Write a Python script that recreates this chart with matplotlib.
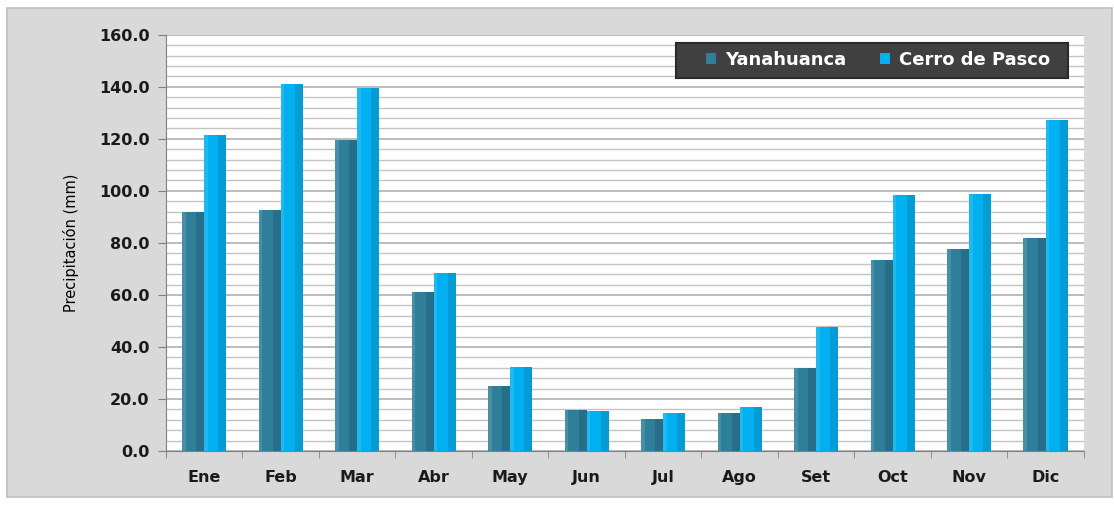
import numpy as np
import matplotlib
matplotlib.use("Agg")
from matplotlib import pyplot as plt
from matplotlib.patches import Rectangle

months = ["Ene", "Feb", "Mar", "Abr", "May", "Jun", "Jul", "Ago", "Set", "Oct", "Nov", "Dic"]
yanahuanca = [92.0, 92.7, 119.6, 61.2, 25.0, 15.8, 12.3, 14.6, 31.9, 73.5, 77.7, 81.9]
cerro_pasco = [121.5, 141.2, 139.6, 68.5, 32.3, 15.4, 14.6, 16.9, 47.7, 98.5, 98.8, 127.3]
series_names = ["Yanahuanca", "Cerro de Pasco"]

c_yana, c_yana_dark = "#2f7f9a", "#21627a"
c_cerro, c_cerro_dark = "#00b0f0", "#0a8cc0"

plt.rcParams["font.family"] = ["DejaVu Sans"]

fig = plt.figure(figsize=(11.14, 5.13), dpi=100)
fig.patch.set_facecolor("white")
# gray chart area panel
fig.patches.append(Rectangle((7 / 1114, 16 / 513), 1105 / 1114, 489 / 513,
                             transform=fig.transFigure, facecolor="#d9d9d9",
                             edgecolor="#bfbfbf", lw=1.2, zorder=-5))

ax = fig.add_axes([0.149, 0.121, 0.824, 0.811])
ax.set_facecolor("white")

x = np.arange(len(months))
w = 0.29
for vals, off, col, dark, name in [(yanahuanca, -w / 2, c_yana, c_yana_dark, series_names[0]),
                                   (cerro_pasco, w / 2, c_cerro, c_cerro_dark, series_names[1])]:
    ax.bar(x + off, vals, width=w, color=col, zorder=3, label=name)
    # darker right side for a bit of depth
    ax.bar(x + off + w * 0.32, vals, width=w * 0.36, color=dark, alpha=0.55, zorder=4)
    ax.bar(x + off - w * 0.42, vals, width=w * 0.16, color="white", alpha=0.12, zorder=4)

ax.set_xlim(-0.5, len(months) - 0.5)
ax.set_ylim(0, 160)
ax.set_yticks(np.arange(0, 161, 20))
ax.set_yticks(np.arange(0, 161, 4), minor=True)
ax.set_yticklabels([f"{v:.1f}" for v in np.arange(0, 161, 20)])
ax.yaxis.grid(True, which="major", color="#a8a8a8", lw=1.1, zorder=1)
ax.yaxis.grid(True, which="minor", color="#c4c4c4", lw=1.0, zorder=1)

ax.set_xticks(x)
ax.set_xticklabels(months)
ax.set_xticks(np.arange(-0.5, len(months), 1), minor=True)
ax.tick_params(axis="x", which="major", length=0, pad=14, labelsize=11.5)
ax.tick_params(axis="x", which="minor", length=5, color="#808080", direction="out")
ax.tick_params(axis="y", which="major", length=6, color="#808080", pad=6, labelsize=11.5)
ax.tick_params(axis="y", which="minor", length=0)
for lbl in ax.get_xticklabels() + ax.get_yticklabels():
    lbl.set_fontweight("bold")
    lbl.set_color("#1a1a1a")

for s in ["top", "right"]:
    ax.spines[s].set_visible(False)
ax.spines["left"].set_color("#808080")
ax.spines["bottom"].set_color("#808080")

ax.set_ylabel("Precipitación (mm)", fontsize=10.5,
              family=["Liberation Sans Narrow", "DejaVu Sans Condensed", "DejaVu Sans"],
              labelpad=14)

# dark legend box, drawn by hand so it can be wider than the entries
ax.add_patch(Rectangle((0.556, 0.897), 0.427, 0.084, transform=ax.transAxes,
                       facecolor="#404040", edgecolor="#2a2a2a", lw=1.5,
                       zorder=9, clip_on=False))
leg = ax.legend(loc="center", bbox_to_anchor=(0.776, 0.939), ncol=2,
                frameon=False, borderaxespad=0, handlelength=0.55, handleheight=0.55,
                handletextpad=0.5, columnspacing=1.9,
                prop={"weight": "bold", "size": 13})
for t in leg.get_texts():
    t.set_color("white")
leg.set_zorder(10)

fig.savefig("out.png", dpi=100)
